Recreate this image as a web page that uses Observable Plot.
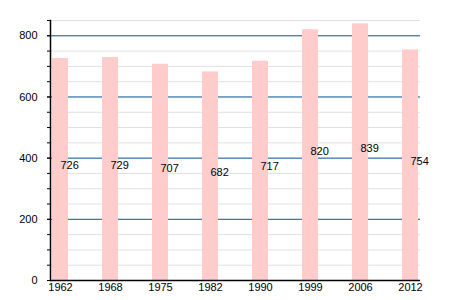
<!DOCTYPE html>
<html>
<head>
<meta charset="utf-8">
<script src="https://cdn.jsdelivr.net/npm/d3@7"></script>
<script src="https://cdn.jsdelivr.net/npm/@observablehq/plot@0.6"></script>
<style>
  html, body { margin: 0; padding: 0; background: #fff; }
  svg { font-family: "Liberation Sans", Arial, sans-serif; }
</style>
</head>
<body>
<div id="chart"></div>
<script>
const years = ["1962", "1968", "1975", "1982", "1990", "1999", "2006", "2012"];
const population = [726, 729, 707, 682, 717, 820, 839, 754];
const yMajorTicks = [0, 200, 400, 600, 800];
const yMinorTicks = [0, 50, 100, 150, 200, 250, 300, 350, 400, 450, 500, 550, 600, 650, 700, 750, 800, 850];
const yGridBlue = [200, 400, 600, 800];

const data = years.map((y, i) => ({year: y, value: population[i]}));

const chart = Plot.plot({
  width: 450,
  height: 300,
  marginLeft: 50,
  marginRight: 30,
  marginTop: 20,
  marginBottom: 20,
  style: {fontFamily: "'Liberation Sans', Arial, sans-serif", fontSize: "11px", color: "#000", background: "#fff"},
  x: {domain: years, paddingInner: 0.684, paddingOuter: 0, label: null},
  y: {domain: [0, 850], label: null},
  marks: [
    Plot.ruleY(yMinorTicks, {stroke: "#e0e0e0", strokeWidth: 1}),
    Plot.ruleY(yGridBlue, {stroke: "#0d5fa6", strokeWidth: 1}),
    Plot.barY(data, {x: "year", y: "value", fill: "#ffcccc"}),
    Plot.text(data, {x: "year", y: d => d.value / 2, text: d => String(d.value), textAnchor: "start", lineAnchor: "middle", dy: -4, fill: "#000", fontSize: 11}),
    Plot.axisY({ticks: yMinorTicks, tickSize: 3, tickFormat: () => "", stroke: "#000"}),
    Plot.axisY({ticks: yMajorTicks, tickSize: 3, tickPadding: 10, stroke: "#000", fill: "#000", fontSize: 11}),
    Plot.frame({anchor: "left", stroke: "#000", strokeWidth: 1.5}),
    Plot.ruleY([0], {stroke: "#000", strokeWidth: 1.5}),
    Plot.axisX({tickSize: 0, tickPadding: 3, fill: "#000", fontSize: 11})
  ]
});
document.getElementById("chart").appendChild(chart);
</script>
</body>
</html>
